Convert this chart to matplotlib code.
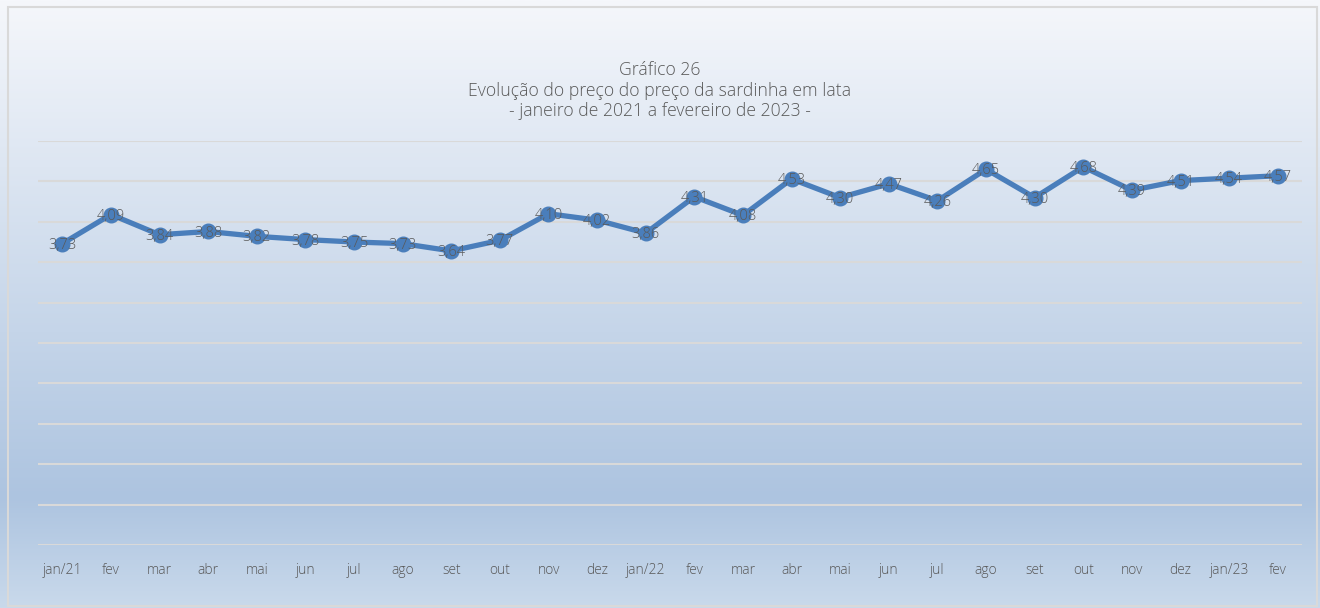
import numpy as np
import matplotlib.pyplot as plt
from matplotlib.colors import LinearSegmentedColormap
from matplotlib.patches import Rectangle

plt.rcParams['font.family'] = ['Open Sans', 'DejaVu Sans']

# dados
meses = ['jan/21', 'fev', 'mar', 'abr', 'mai', 'jun', 'jul', 'ago', 'set', 'out', 'nov', 'dez',
         'jan/22', 'fev', 'mar', 'abr', 'mai', 'jun', 'jul', 'ago', 'set', 'out', 'nov', 'dez',
         'jan/23', 'fev']
precos = [3.73, 4.09, 3.84, 3.88, 3.82, 3.78, 3.75, 3.73, 3.64, 3.77, 4.10, 4.02,
          3.86, 4.31, 4.08, 4.53, 4.30, 4.47, 4.26, 4.65, 4.30, 4.68, 4.39, 4.51,
          4.54, 4.57]
titulo = 'Gráfico 26\nEvolução do preço do preço da sardinha em lata\n- janeiro de 2021 a fevereiro de 2023 -'

fig = plt.figure(figsize=(13.2, 6.08), dpi=100)

# fundo em gradiente
bg = fig.add_axes([0, 0, 1, 1], zorder=-10)
cmap = LinearSegmentedColormap.from_list('fundo', [(0, '#f5f7fb'), (0.82, '#adc4e0'), (1, '#c9d9eb')])
grad = np.linspace(0, 1, 256).reshape(-1, 1)
bg.imshow(grad, aspect='auto', cmap=cmap, extent=[0, 1, 0, 1], origin='upper')
bg.add_patch(Rectangle((0.006, 0.003), 0.992, 0.985, fill=False, edgecolor='#d9d9d9', lw=1.5,
                       transform=bg.transAxes))
bg.set_xlim(0, 1)
bg.set_ylim(0, 1)
bg.axis('off')

ax = fig.add_axes([0.0288, 0.1036, 0.9576, 0.6645])
ax.patch.set_alpha(0)
x = np.arange(len(meses))
ax.plot(x, precos, color='#4a7ebb', lw=3.8, marker='o', ms=10.5, zorder=3)
for xi, yi in zip(x, precos):
    ax.text(xi, yi - 0.02, ('%.2f' % yi).replace('.', ','), ha='center', va='center',
            fontsize=10.5, color='#595959', fontweight='light', zorder=4)

ax.set_xlim(-0.5, len(meses) - 0.5)
ax.set_ylim(0, 5)
ax.set_yticks(np.arange(0, 5.01, 0.5))
ax.yaxis.grid(True, color='#d9d9d9', lw=1.5)
ax.set_axisbelow(True)
ax.set_yticklabels([])
ax.tick_params(axis='y', length=0)
ax.set_xticks(x)
ax.set_xticklabels(meses, fontsize=10, color='#595959', fontweight='light')
ax.tick_params(axis='x', length=0, pad=13)
for s in ax.spines.values():
    s.set_visible(False)

fig.text(0.5, 0.851, titulo, ha='center', va='center', fontsize=12.7, color='#595959',
         fontweight='light', linespacing=1.18)

fig.savefig('out.png', dpi=100)
